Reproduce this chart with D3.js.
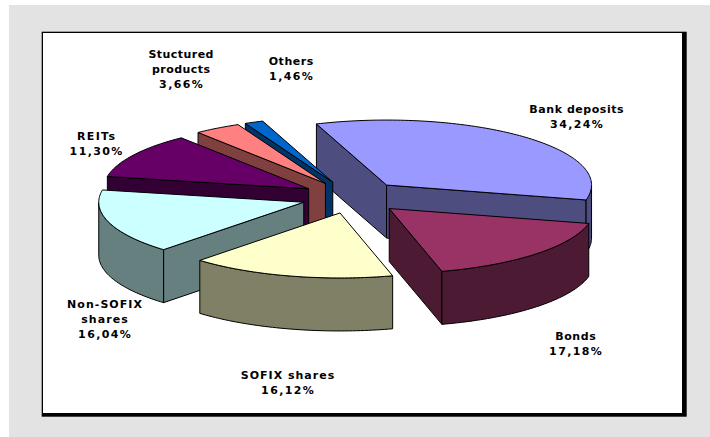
<!DOCTYPE html>
<html>
<head>
<meta charset="utf-8">
<title>Portfolio structure</title>
<script src="https://cdn.jsdelivr.net/npm/d3@7"></script>
<style>
  html, body { margin: 0; padding: 0; background: #fff; }
  svg { display: block; }
  text { font-family: "DejaVu Sans", Verdana, sans-serif; font-weight: 700; font-size: 11px; fill: #000; text-anchor: middle; }
</style>
</head>
<body>
<svg id="chart" width="710" height="437"></svg>
<script>
// Portfolio shares in percent, clockwise from the first slice
const categories = ["Bank deposits", "Bonds", "SOFIX shares", "Non-SOFIX shares", "REITs", "Stuctured products", "Others"];
const shares = [34.24, 17.18, 16.12, 16.04, 11.30, 3.66, 1.46];
const topColors = ["#9999ff", "#993366", "#ffffcc", "#ccffff", "#660066", "#ff8080", "#0066cc"];
const sideColors = ["#4d4d80", "#4d1a33", "#808066", "#668080", "#330033", "#804040", "#003366"];
const labelLines = [
  ["Bank deposits"], ["Bonds"], ["SOFIX shares"], ["Non-SOFIX", "shares"],
  ["REITs"], ["Stuctured", "products"], ["Others"]
];

// Layout of the tilted pie
const centre = { x: 352.5, y: 197.2 };
const radiusX = 205, radiusY = 65, depth = 53, explode = 0.25;
const firstAngle = -20 * Math.PI / 180;
const labelAnchors = [[576.5, 113], [575.5, 340], [287.5, 379], [104.5, 308], [96, 140], [181, 58], [291, 65]];
const nameSpacing = [0.55, 0.55, 1.0, 1.05, 1.3, 0.45, 0.55];
const percentSpacing = 1.4;
const paintOrder = [0, 6, 5, 4, 3, 2, 1];

const svg = d3.select("#chart");

// Frame: grey page panel, white plot area with a heavy lower-right edge
svg.append("rect").attr("x", 9).attr("y", 5).attr("width", 701).attr("height", 432).attr("fill", "#e3e3e3");
svg.append("rect").attr("x", 41.7).attr("y", 31.7).attr("width", 645).attr("height", 385).attr("fill", "#000");
svg.append("rect").attr("x", 43).attr("y", 33).attr("width", 639).attr("height", 380).attr("fill", "#fff");

const xScale = d3.scaleLinear().domain([-1, 1]).range([-radiusX, radiusX]);
const yScale = d3.scaleLinear().domain([-1, 1]).range([-radiusY, radiusY]);

const arcs = d3.pie().sort(null).value(d => d)
  .startAngle(firstAngle).endAngle(firstAngle + 2 * Math.PI)(shares);

const apex = (slice, drop = 0) => {
  const mid = (slice.startAngle + slice.endAngle) / 2;
  return [centre.x + explode * xScale(Math.sin(mid)),
          centre.y + explode * yScale(-Math.cos(mid)) + drop];
};
const rim = (slice, angle, drop = 0) => {
  const [ox, oy] = apex(slice, drop);
  return [ox + xScale(Math.sin(angle)), oy + yScale(-Math.cos(angle))];
};
const sweep = (slice, from, to, drop = 0) => {
  const steps = Math.max(2, Math.ceil((to - from) / 0.02));
  return d3.range(steps + 1).map(i => rim(slice, from + (to - from) * i / steps, drop));
};
const outline = d3.line().curve(d3.curveLinearClosed);

const pieLayer = svg.append("g");
const facePaint = (sel, fill) => sel.attr("fill", fill).attr("stroke", "#000").attr("stroke-width", 1).attr("stroke-linejoin", "round");

paintOrder.forEach(i => {
  const s = arcs[i];
  const g = pieLayer.append("g");

  // Cut faces turned towards the viewer
  [[s.startAngle, Math.sin(s.startAngle) < 0], [s.endAngle, Math.sin(s.endAngle) > 0]].forEach(([angle, visible]) => {
    if (!visible) return;
    facePaint(g.append("path").attr("d", outline([apex(s), rim(s, angle), rim(s, angle, depth), apex(s, depth)])), sideColors[i]);
  });

  // Outer wall, only on the near half of the rim
  const intervals = [[Math.PI / 2, 1.5 * Math.PI], [2.5 * Math.PI, 3.5 * Math.PI]];
  intervals.forEach(([lo, hi]) => {
    const from = Math.max(s.startAngle, lo), to = Math.min(s.endAngle, hi);
    if (to <= from) return;
    facePaint(g.append("path").attr("d", outline([...sweep(s, from, to), ...sweep(s, from, to, depth).reverse()])), sideColors[i]);
  });

  // Top surface
  facePaint(g.append("path").attr("d", outline([apex(s), ...sweep(s, s.startAngle, s.endAngle)])), topColors[i]);
});

// Labels: name lines followed by the share with a decimal comma
const percent = v => d3.format(".2f")(v).replace(".", ",") + "%";
const lineGap = 15;
categories.forEach((name, i) => {
  const t = svg.append("text").attr("aria-label", name);
  const [ax, ay] = labelAnchors[i];
  labelLines[i].forEach((line, k) => {
    t.append("tspan").attr("x", ax + nameSpacing[i] / 2).attr("y", ay + k * lineGap)
      .attr("letter-spacing", nameSpacing[i]).text(line);
  });
  t.append("tspan").attr("x", ax + percentSpacing / 2).attr("y", ay + labelLines[i].length * lineGap)
    .attr("letter-spacing", percentSpacing).text(percent(shares[i]));
});
</script>
</body>
</html>
